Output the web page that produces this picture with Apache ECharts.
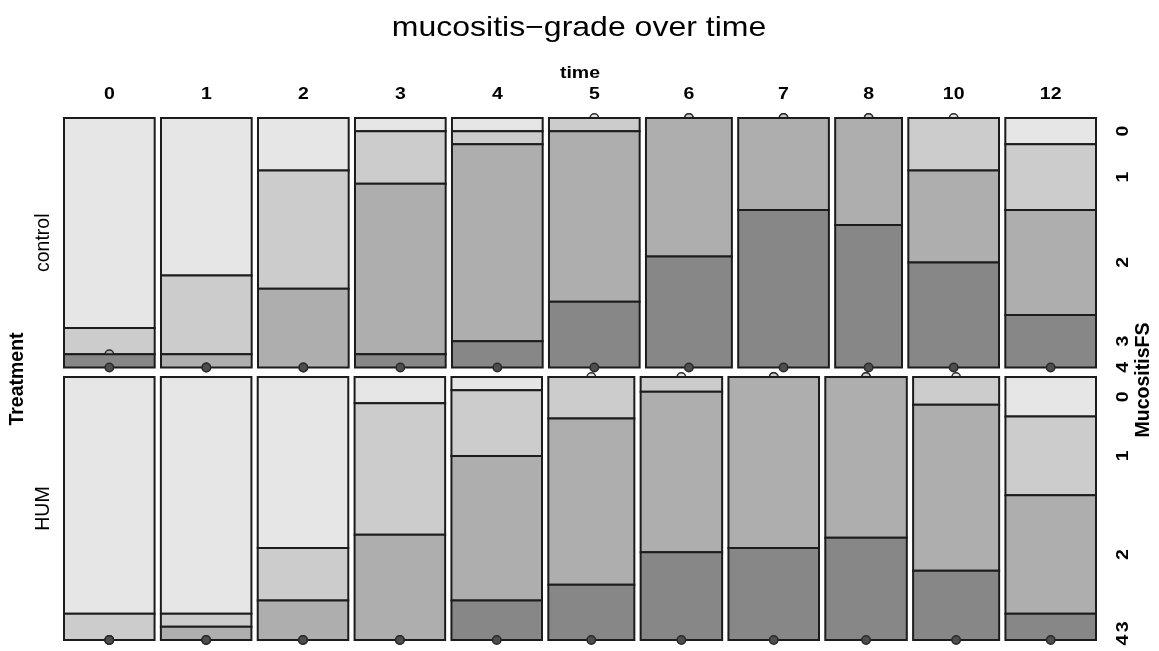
<!DOCTYPE html>
<html><head><meta charset="utf-8">
<script src="https://cdn.jsdelivr.net/npm/echarts@6/dist/echarts.min.js"></script>
<style>html,body{margin:0;padding:0;background:#fff}#c{width:1159px;height:651px}</style>
</head><body><div id="c"></div>
<script>
// ---- data (counts read from the mosaic) ----
const times = ['0','1','2','3','4','5','6','7','8','10','12'];
const treatments = ['control','HUM'];
const grades = ['0','1','2','3','4'];
// control: counts of MucositisFS grade per time
const control_g0 = [16,12,4,1,1,0,0,0,0,0,2];
const control_g1 = [2,6,9,4,1,1,0,0,0,4,5];
const control_g2 = [0,1,6,13,15,13,10,7,6,7,8];
const control_g3 = [1,0,0,1,2,5,8,12,8,8,4];
const control_g4 = [0,0,0,0,0,0,0,0,0,0,0];
// HUM
const hum_g0 = [18,18,13,2,1,0,0,0,0,0,3];
const hum_g1 = [2,1,4,10,5,3,1,0,0,2,6];
const hum_g2 = [0,1,3,8,11,12,11,13,11,12,9];
const hum_g3 = [0,0,0,0,3,4,6,7,7,5,2];
const hum_g4 = [0,0,0,0,0,0,0,0,0,0,0];

// ---- layout / style ----
const FONT = "'Liberation Sans', Arial, sans-serif";
const GRID = {left:64, top:118, width:1032, height:522};
const GAP_X = 6.3/1032, GAP_Y = 9.6/522;
const colors = ['#E6E6E6','#CCCCCC','#AEAEAE','#878787','#4D4D4D'];

const rows = [
  {name: treatments[0], counts: [control_g0, control_g1, control_g2, control_g3, control_g4]},
  {name: treatments[1], counts: [hum_g0, hum_g1, hum_g2, hum_g3, hum_g4]}
];
const colTotal = (r, t) => r.counts.reduce((a, g) => a + g[t], 0);
const rowTotals = rows.map(r => times.reduce((s, _, t) => s + colTotal(r, t), 0));
const grand = rowTotals.reduce((a, b) => a + b, 0);

const cells = [], topLabels = [], rightLabels = [], rowLabels = [];
let yStart = 0;
const usableY = 1 - GAP_Y * (rows.length - 1);
const usableX = 1 - GAP_X * (times.length - 1);
rows.forEach((r, ri) => {
  const h = usableY * rowTotals[ri] / grand;
  let xStart = 0;
  times.forEach((t, ti) => {
    const n = colTotal(r, ti);
    const w = usableX * n / rowTotals[ri];
    let cy = yStart;
    grades.forEach((g, gi) => {
      const c = r.counts[gi][ti];
      const ch = h * c / n;
      cells.push([xStart, xStart + w, cy, cy + ch, gi, c]);
      if (ti === times.length - 1) rightLabels.push([1, cy + ch / 2, gi, ri]);
      cy += ch;
    });
    if (ri === 0) topLabels.push([xStart + w / 2, 0, ti]);
    xStart += w + GAP_X;
  });
  rowLabels.push([0, yStart + h / 2, ri]);
  yStart += h + GAP_Y;
});

const chart = echarts.init(document.getElementById('c'));
const txt = (text, x, y, o) => Object.assign({
  type: 'text', x: x, y: y,
  style: {text: text, fontFamily: FONT, fontSize: 19.5, fill: '#000', align: 'center', verticalAlign: 'middle'}
}, o || {});

chart.setOption({
  animation: false,
  grid: Object.assign({}, GRID, {containLabel: false}),
  xAxis: {type: 'value', min: 0, max: 1, show: false},
  yAxis: {type: 'value', min: 0, max: 1, inverse: true, show: false},
  graphic: [
    {type: 'text', x: 579, y: 28, scaleY: 0.85,
     style: {text: 'mucositis\u2212grade over time', fontFamily: FONT, fontSize: 32, fill: '#000', align: 'center', verticalAlign: 'middle'}},
    {type: 'text', x: 580, y: 73, scaleY: 0.85,
     style: {text: 'time', fontFamily: FONT, fontSize: 19.5, fontWeight: 'bold', fill: '#000', align: 'center', verticalAlign: 'middle'}},
    {type: 'text', x: 17.5, y: 379, rotation: Math.PI / 2,
     style: {text: 'Treatment', fontFamily: FONT, fontSize: 19.5, fontWeight: 'bold', fill: '#000', align: 'center', verticalAlign: 'middle'}},
    {type: 'text', x: 1143.5, y: 380, rotation: Math.PI / 2,
     style: {text: 'MucositisFS', fontFamily: FONT, fontSize: 19.5, fontWeight: 'bold', fill: '#000', align: 'center', verticalAlign: 'middle'}}
  ],
  series: [
    {
      type: 'custom', name: 'cells', clip: false, data: cells,
      encode: {x: [0, 1], y: [2, 3]},
      renderItem: (params, api) => {
        const a = api.coord([api.value(0), api.value(2)]);
        const b = api.coord([api.value(1), api.value(3)]);
        const gi = api.value(4), c = api.value(5);
        if (c > 0) {
          return {type: 'rect', shape: {x: a[0], y: a[1], width: b[0] - a[0], height: b[1] - a[1]},
                  style: {fill: colors[gi], stroke: '#1c1c1c', lineWidth: 2}};
        }
        return {type: 'circle', shape: {cx: (a[0] + b[0]) / 2, cy: a[1], r: 4.2},
                style: {fill: colors[gi], stroke: '#2a2a2a', lineWidth: 1.5}};
      }
    },
    {
      type: 'custom', name: 'time labels', clip: false, data: topLabels,
      encode: {x: 0, y: 1},
      renderItem: (params, api) => {
        const p = api.coord([api.value(0), api.value(1)]);
        return txt(times[api.value(2)], p[0], p[1] - 24, {scaleY: 0.85, style: {text: times[api.value(2)], fontFamily: FONT, fontSize: 19.5, fontWeight: 'bold', fill: '#000', align: 'center', verticalAlign: 'middle'}});
      }
    },
    {
      type: 'custom', name: 'grade labels', clip: false, data: rightLabels,
      encode: {x: 0, y: 1},
      renderItem: (params, api) => {
        const p = api.coord([api.value(0), api.value(1)]);
        const g = grades[api.value(2)];
        return txt(g, p[0] + 27.5, p[1], {rotation: Math.PI / 2, scaleY: 0.85, style: {text: g, fontFamily: FONT, fontSize: 19.5, fontWeight: 'bold', fill: '#000', align: 'center', verticalAlign: 'middle'}});
      }
    },
    {
      type: 'custom', name: 'treatment labels', clip: false, data: rowLabels,
      encode: {x: 0, y: 1},
      renderItem: (params, api) => {
        const p = api.coord([api.value(0), api.value(1)]);
        const nm = treatments[api.value(2)];
        return txt(nm, p[0] - 20.7, p[1], {rotation: Math.PI / 2});
      }
    }
  ]
});
</script></body></html>
